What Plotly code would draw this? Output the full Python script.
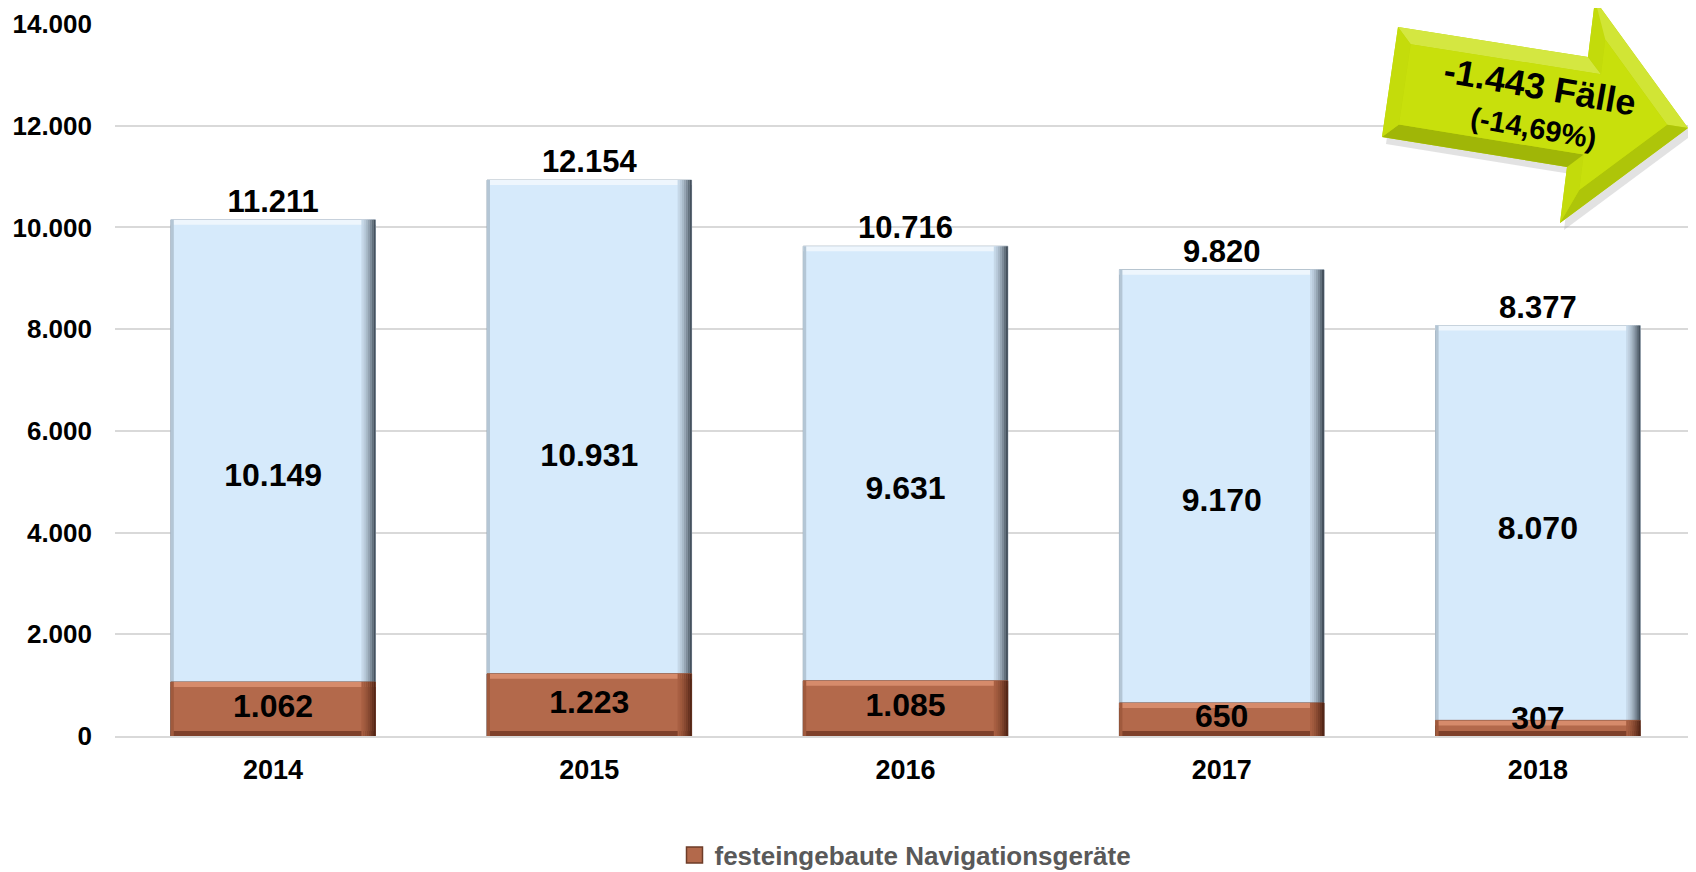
import math
import plotly.graph_objects as go

years = ["2014", "2015", "2016", "2017", "2018"]
other_values = [10149, 10931, 9631, 9170, 8070]
navi_values = [1062, 1223, 1085, 650, 307]
total_values = [11211, 12154, 10716, 9820, 8377]
y_ticks = [0, 2000, 4000, 6000, 8000, 10000, 12000, 14000]
legend_name = "festeingebaute Navigationsgeräte"
arrow_line1 = "-1.443 Fälle"
arrow_line2 = "(-14,69%)"


def de(v):
    return f"{v:,}".replace(",", ".")


FONT = "Liberation Sans, Arial, sans-serif"
# page has an 8px body margin; figure sized to fit the 1696x872 window
OFF = 8
W, H = 1688, 864
ML, MR, MT, MB = 107, 0, 16, 136
YMAX = 14000

BLUE = "#D6EAFB"
BROWN = "#B3694B"
BW = 0.647  # bar width in category units

pw = W - ML - MR
ph = H - MT - MB
PX_X = len(years) / pw      # category units per pixel
PX_Y = YMAX / ph            # value units per pixel


def mix(c1, c2, t):
    return "#%02X%02X%02X" % tuple(int(round(a + (b - a) * t)) for a, b in zip(c1, c2))


fig = go.Figure()


def bar(y, color, base=None, width=BW, offset=None, line=None):
    kw = dict(x=years, y=y, showlegend=False, hoverinfo="skip", width=[width] * len(years),
              marker=dict(color=color, line=line or dict(width=0)))
    if base is not None:
        kw["base"] = base
    if offset is not None:
        kw["offset"] = offset
    fig.add_trace(go.Bar(**kw))


def bevels(values, top_col, bottom_col, left_col, grad_from, grad_to, bottom=True):
    t = 5 * PX_Y
    bar([t] * len(values), top_col, base=[v - t for v in values])
    if bottom:
        bar([t] * len(values), bottom_col, base=[0] * len(values))
    bar(values, left_col, width=3 * PX_X, offset=-BW / 2)
    steps, wpx = 7, 2
    x = BW / 2 - steps * wpx * PX_X
    for k in range(steps):
        tt = ((k + 1) / steps) ** 1.6
        bar(values, mix(grad_from, grad_to, tt), width=wpx * PX_X + 0.0004, offset=x)
        x += wpx * PX_X


# blue bars (full height) with bevel
bar(other_values, BLUE, line=dict(color="#9AAAB8", width=1))
bevels(other_values, "#EEF6FD", None, "#B4C6D5", (204, 222, 238), (70, 82, 94), bottom=False)
# brown bars with bevel
bar(navi_values, BROWN, line=dict(color="#7A4530", width=1))
bevels(navi_values, "#D68B6B", "#7E402A", "#A05A3D", (172, 98, 68), (84, 38, 22))

# legend entry (square swatch)
fig.add_trace(go.Scatter(
    x=[None], y=[None], mode="markers", name=legend_name,
    marker=dict(symbol="square", size=17, color=BROWN, line=dict(color="#6E3C28", width=1.5)),
))

# labels inside blue bars (centered on the full bar)
fig.add_trace(go.Scatter(
    x=years, y=[v / 2 for v in other_values], mode="text",
    text=[de(v) for v in other_values], showlegend=False,
    textfont=dict(family=FONT, size=32, color="black", weight="bold"),
    hoverinfo="skip", cliponaxis=False,
))
# labels in brown bars
fig.add_trace(go.Scatter(
    x=years, y=[max(v / 2, 300) for v in navi_values], mode="text",
    text=[de(v) for v in navi_values], showlegend=False,
    textfont=dict(family=FONT, size=32, color="black", weight="bold"),
    hoverinfo="skip", cliponaxis=False,
))
# totals above bars
fig.add_trace(go.Scatter(
    x=years, y=other_values, mode="text",
    text=[de(v) for v in total_values], textposition="top center",
    showlegend=False,
    textfont=dict(family=FONT, size=31, color="black", weight="bold"),
    hoverinfo="skip", cliponaxis=False,
))


# ---- Arrow decoration (page pixel positions converted to paper coords)
def px2paper(x, y):
    return (x - OFF - ML) / pw, (H - MB - (y - OFF)) / ph


arrow_px = [(1398, 27), (1588, 57), (1595, 0), (1688, 128), (1560, 223), (1567, 167), (1382, 137)]


def inset(poly, d):
    n = len(poly)
    lines = []
    for i in range(n):
        (x1, y1), (x2, y2) = poly[i], poly[(i + 1) % n]
        dx, dy = x2 - x1, y2 - y1
        L = math.hypot(dx, dy)
        nx, ny = -dy / L, dx / L  # inward normal (clockwise on screen)
        lines.append(((x1 + nx * d, y1 + ny * d), (dx, dy)))
    out = []
    for i in range(n):
        (p1, d1), (p2, d2) = lines[i - 1], lines[i]
        den = d1[0] * d2[1] - d1[1] * d2[0]
        t = ((p2[0] - p1[0]) * d2[1] - (p2[1] - p1[1]) * d2[0]) / den
        out.append((p1[0] + d1[0] * t, p1[1] + d1[1] * t))
    return out


def path_from(points):
    pts = [px2paper(x, y) for x, y in points]
    return "M " + " L ".join(f"{a:.5f},{b:.5f}" for a, b in pts) + " Z"


base_rgb = (200, 224, 12)
inner_px = inset(arrow_px, 15)
shadow = [(x + 4, y + 7) for x, y in arrow_px]
fig.add_shape(type="path", xref="paper", yref="paper", path=path_from(shadow),
              fillcolor="rgba(150,150,150,0.28)", line=dict(width=0), layer="above")
fig.add_shape(type="path", xref="paper", yref="paper", path=path_from(arrow_px),
              fillcolor=mix(base_rgb, (0, 0, 0), 0.05), line=dict(width=0), layer="above")
lx, ly = 0.25, -1.0
ll = math.hypot(lx, ly)
n = len(arrow_px)
for i in range(n):
    (x1, y1), (x2, y2) = arrow_px[i], arrow_px[(i + 1) % n]
    dx, dy = x2 - x1, y2 - y1
    L = math.hypot(dx, dy)
    onx, ony = dy / L, -dx / L
    s = (onx * lx + ony * ly) / ll
    col = mix(base_rgb, (255, 255, 255), 0.22 * s) if s > 0 else mix(base_rgb, (110, 130, 0), 0.45 * -s)
    quad = [arrow_px[i], arrow_px[(i + 1) % n], inner_px[(i + 1) % n], inner_px[i]]
    fig.add_shape(type="path", xref="paper", yref="paper", path=path_from(quad),
                  fillcolor=col, line=dict(width=0), layer="above")
fig.add_shape(type="path", xref="paper", yref="paper", path=path_from(inner_px),
              fillcolor=mix(base_rgb, (0, 0, 0), 0.0), line=dict(width=0), layer="above")

ax1, ay1 = px2paper(1540, 86)
ax2, ay2 = px2paper(1533, 128)
fig.add_annotation(x=ax1, y=ay1, xref="paper", yref="paper", text=arrow_line1,
                   showarrow=False, textangle=10, xanchor="center", yanchor="middle",
                   font=dict(family=FONT, size=36, color="black", weight="bold"))
fig.add_annotation(x=ax2, y=ay2, xref="paper", yref="paper", text=arrow_line2,
                   showarrow=False, textangle=10, xanchor="center", yanchor="middle",
                   font=dict(family=FONT, size=29, color="black", weight="bold"))

_, leg_y = px2paper(0, 855)

fig.update_layout(
    width=W, height=H,
    margin=dict(l=ML, r=MR, t=MT, b=MB, autoexpand=False),
    paper_bgcolor="white", plot_bgcolor="white",
    barmode="overlay",
    separators=",.",
    font=dict(family=FONT),
    legend=dict(orientation="h", x=0.5, xanchor="center", y=leg_y, yanchor="middle",
                font=dict(family=FONT, size=26, color="#595959", weight="bold"),
                itemwidth=30),
    xaxis=dict(tickfont=dict(family=FONT, size=27, color="black", weight="bold"),
               showgrid=False, showline=True, linecolor="#D9D9D9", linewidth=2,
               ticks="", ticklabelstandoff=9, automargin=False),
    yaxis=dict(range=[0, YMAX], tickvals=y_ticks, tickformat=",d",
               tickfont=dict(family=FONT, size=26, color="black", weight="bold"),
               showgrid=True, gridcolor="#D9D9D9", gridwidth=2,
               zeroline=False, showline=False, ticks="", ticklabelstandoff=22,
               automargin=False),
)

fig.write_html("out.html")
